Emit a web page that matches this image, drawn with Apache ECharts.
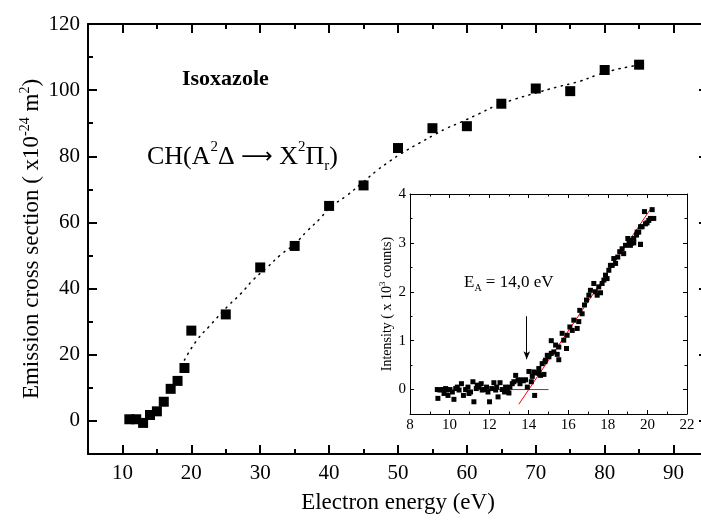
<!DOCTYPE html>
<html>
<head>
<meta charset="utf-8">
<script src="https://cdn.jsdelivr.net/npm/echarts@6/dist/echarts.min.js"></script>
<style>html,body{margin:0;padding:0;background:#fff}#c{width:701px;height:523px}</style>
</head>
<body>
<div id="c"></div>
<script>
// ---- main plot data ----
const mainEnergy = [11,12,13,14,15,16,17,18,19,20,25,30,35,40,45,50,55,60,65,70,75,80,85];
const mainCross  = [0.5,0.5,-0.6,1.8,2.9,5.8,9.7,12.1,16.0,27.3,32.2,46.4,52.9,65.0,71.2,82.5,88.5,89.1,95.9,100.5,99.7,106.1,107.7];
// dotted guide curve
const fitEnergy = [19,20.8,22.6,25.3,27.2,29,31,32.9,35,36.8,38.7,40,42.6,44.7,47,48.3,50.3,53.1,55.1,57,59.2,61.8,64,66.7,69.6,73,76.4,78.8,81.2,84.1,85];
const fitCross  = [18.4,24.4,28.6,34.7,38.5,42.7,46.4,50.1,53.5,57.4,61.2,64.3,68.2,71.8,75.8,77.8,80.6,84,86.3,88.4,90.4,92.9,95.1,97.1,98.9,100.9,102.7,104.5,106,107.3,107.6];
// ---- inset data ----
const insetEnergy = [9.38,9.41,9.52,9.63,9.72,9.8,9.85,9.92,10.02,10.14,10.22,10.31,10.39,10.48,10.6,10.7,10.81,10.93,10.98,11.06,11.18,11.23,11.35,11.4,11.49,11.6,11.65,11.74,11.87,11.94,12.02,12.13,12.24,12.33,12.38,12.45,12.55,12.66,12.78,12.83,12.92,13.0,13.05,13.17,13.25,13.34,13.46,13.56,13.59,13.73,13.84,13.93,14.01,14.13,14.18,14.26,14.3,14.4,14.51,14.52,14.6,14.68,14.77,14.82,14.85,14.94,15.02,15.14,15.14,15.27,15.36,15.44,15.52,15.52,15.69,15.77,15.91,15.94,16.08,16.2,16.28,16.45,16.53,16.58,16.7,16.82,16.92,17.04,17.12,17.29,17.37,17.46,17.54,17.63,17.71,17.8,17.88,17.96,18.05,18.13,18.22,18.3,18.39,18.5,18.6,18.72,18.8,18.89,19.01,19.07,19.11,19.14,19.18,19.31,19.31,19.45,19.48,19.56,19.65,19.65,19.65,19.73,19.85,19.9,19.98,20.07,20.15,20.24,20.32];
const insetIntensity = [0,-0.18,-0.01,0,-0.08,0.02,-0.01,-0.12,0,-0.05,-0.2,0.02,0.05,-0.01,0.12,-0.12,0,0.05,-0.08,-0.05,0.16,-0.25,0.02,0.09,0.05,0.12,-0.01,0,0.05,-0.05,-0.25,0.02,0.14,-0.01,0.05,-0.15,0.14,0,-0.05,0.05,-0.01,-0.07,0.05,0.12,0.16,0.29,0.19,0.12,0.2,0.18,0.2,0.05,0.37,0.16,0.27,0.36,-0.12,0.34,0.43,0.33,0.29,0.53,0.31,0.57,0.6,0.7,0.67,0.74,1.0,0.77,0.91,0.72,0.61,0.87,1.15,1.01,0.84,1.11,1.28,1.21,1.42,1.25,1.39,1.62,1.55,1.73,1.83,1.93,2.03,2.17,2.0,1.93,2.1,1.98,2.17,2.24,2.34,2.27,2.44,2.54,2.54,2.68,2.58,2.71,2.82,2.88,2.78,2.95,3.09,3.05,3.05,2.95,2.99,3.09,3.0,3.16,3.22,3.22,2.97,3.33,2.97,3.33,3.64,3.39,3.41,3.46,3.5,3.68,3.5];
const slopeEnergy = [13.5, 20.2];
const slopeIntensity = [-0.3, 3.72];
const baseEnergy = [11.5, 15.0];
const baseIntensity = [0, 0];
// ---- tick values ----
const mainXMajor = [10,20,30,40,50,60,70,80,90];
const mainXMinor = [5,15,25,35,45,55,65,75,85,95];
const mainYMajor = [0,20,40,60,80,100,120];
const mainYMinor = [-10,10,30,50,70,90,110];
const insetXMajor = [8,10,12,14,16,18,20,22];
const insetXMinor = [9,11,13,15,17,19,21];
const insetYMajor = [0,1,2,3,4];
const insetYMinor = [-0.5,0.5,1.5,2.5,3.5];

const zip = (a,b) => a.map((v,i)=>[v,b[i]]);
const SERIF = 'Liberation Serif';

function axisPair(grid, position, min, max, major, minor, majorLen, minorLen, lineW, label, extra) {
  const base = {type:'value', gridIndex:grid, position:position, min:min, max:max, splitLine:{show:false}, z: grid === 1 ? 12 : 4};
  const a = Object.assign({}, base, {
    axisLine:{show:true, onZero:false, lineStyle:{color:'#000', width:lineW}},
    axisTick:{show:true, inside:true, length:majorLen, customValues:major, lineStyle:{color:'#000', width:lineW}},
    axisLabel: label ? Object.assign({show:true, customValues:major, color:'#000', fontFamily:SERIF}, label) : {show:false}
  }, extra || {});
  const b = Object.assign({}, base, {
    axisLine:{show:false, onZero:false},
    axisTick:{show:true, inside:true, length:minorLen, customValues:minor, lineStyle:{color:'#000', width:lineW}},
    axisLabel:{show:false}
  });
  return [a, b];
}

const xAxes = [].concat(
  axisPair(0,'bottom',5,95,mainXMajor,mainXMinor,9,5,2,{fontSize:21, margin:9},
    {name:'Electron energy (eV)', nameLocation:'middle', nameGap:37, nameMoveOverlap:false,
     nameTextStyle:{fontFamily:SERIF, fontSize:23, color:'#000'}}),
  axisPair(0,'top',5,95,mainXMajor,mainXMinor,9,5,2,null),
  axisPair(1,'bottom',8,22,insetXMajor,insetXMinor,4,2.5,1,{fontSize:15, margin:4}),
  axisPair(1,'top',8,22,insetXMajor,insetXMinor,4,2.5,1,null)
);
const yAxes = [].concat(
  axisPair(0,'left',-10,120,mainYMajor,mainYMinor,9,5,2,{fontSize:21, margin:8},
    {name:'Emission cross section ( x10{sup|-24} m{sup|2})', nameLocation:'middle', nameGap:42, nameMoveOverlap:false,
     nameTextStyle:{fontFamily:SERIF, fontSize:23, color:'#000', lineHeight:28,
       rich:{sup:{fontFamily:SERIF, fontSize:14, verticalAlign:'top', lineHeight:28, color:'#000'}}}}),
  axisPair(0,'right',-10,120,mainYMajor,mainYMinor,9,5,2,null),
  axisPair(1,'left',-0.5,4,insetYMajor,insetYMinor,4,2.5,1,{fontSize:15, margin:4},
    {name:'Intensity ( x 10{sup|3} counts)', nameLocation:'middle', nameGap:14, nameMoveOverlap:false,
     nameTextStyle:{fontFamily:SERIF, fontSize:14, color:'#000', lineHeight:18,
       rich:{sup:{fontFamily:SERIF, fontSize:9, verticalAlign:'top', lineHeight:18, color:'#000'}}}}),
  axisPair(1,'right',-0.5,4,insetYMajor,insetYMinor,4,2.5,1,null)
);

const option = {
  animation:false,
  backgroundColor:'#fff',
  grid:[
    {left:88, top:24, right:-7, bottom:69, outerBoundsMode:'none', containLabel:false, z:0},
    {left:410, top:194, right:14, bottom:109, outerBoundsMode:'none', containLabel:false, show:true, backgroundColor:'#fff', borderWidth:0, z:5}
  ],
  xAxis:xAxes,
  yAxis:yAxes,
  series:[
    {type:'line', xAxisIndex:0, yAxisIndex:0, data:zip(fitEnergy, fitCross), smooth:true, symbol:'none',
     lineStyle:{color:'#000', width:1.5, type:[1.2,5.5], cap:'round'}, z:2},
    {type:'scatter', xAxisIndex:0, yAxisIndex:0, data:zip(mainEnergy, mainCross), symbol:'rect', symbolSize:10,
     itemStyle:{color:'#000', opacity:1}, z:3},
    {type:'line', xAxisIndex:4, yAxisIndex:4, data:zip(slopeEnergy, slopeIntensity), symbol:'none',
     lineStyle:{color:'#ff0000', width:1}, z:10},
    {type:'line', xAxisIndex:4, yAxisIndex:4, data:zip(baseEnergy, baseIntensity), symbol:'none',
     lineStyle:{color:'#ff0000', width:1}, z:10},
    {type:'scatter', xAxisIndex:4, yAxisIndex:4, data:zip(insetEnergy, insetIntensity), symbol:'rect', symbolSize:5,
     itemStyle:{color:'#000', opacity:1}, z:11,
     markLine:{silent:true, symbol:['none','arrow'], symbolSize:[5,8], label:{show:false},
       lineStyle:{color:'#000', width:1, type:'solid'},
       data:[[{coord:[13.9,1.5]},{coord:[13.9,0.62]}]]}}
  ],
  graphic:[
    {type:'text', left:182, top:68, z:20,
     style:{text:'Isoxazole', fontFamily:SERIF, fontWeight:'bold', fontSize:22, fill:'#000'}},
    {type:'text', left:147, top:140, z:20,
     style:{text:'{n|CH(A}{sup|2}{n|Δ }{ar|⟶}{n| X}{sup|2}{n|Π}{sub|r}{n|)}',
       rich:{
         n:{fontFamily:SERIF, fontSize:26, lineHeight:34, verticalAlign:'middle', fill:'#000'},
         ar:{fontFamily:'DejaVu Sans', fontSize:22, lineHeight:34, verticalAlign:'middle', fill:'#000'},
         sup:{fontFamily:SERIF, fontSize:15, lineHeight:34, verticalAlign:'top', fill:'#000'},
         sub:{fontFamily:SERIF, fontSize:15, lineHeight:34, verticalAlign:'bottom', fill:'#000'}
       }}},
    {type:'text', left:464, top:274, z:20,
     style:{text:'{n|E}{sub|A}{n| = 14,0 eV}',
       rich:{
         n:{fontFamily:SERIF, fontSize:17, lineHeight:22, verticalAlign:'middle', fill:'#000'},
         sub:{fontFamily:SERIF, fontSize:10, lineHeight:22, verticalAlign:'bottom', fill:'#000'}
       }}}
  ]
};
const chart = echarts.init(document.getElementById('c'), null, {renderer:'canvas'});
chart.setOption(option);
</script>
</body>
</html>
